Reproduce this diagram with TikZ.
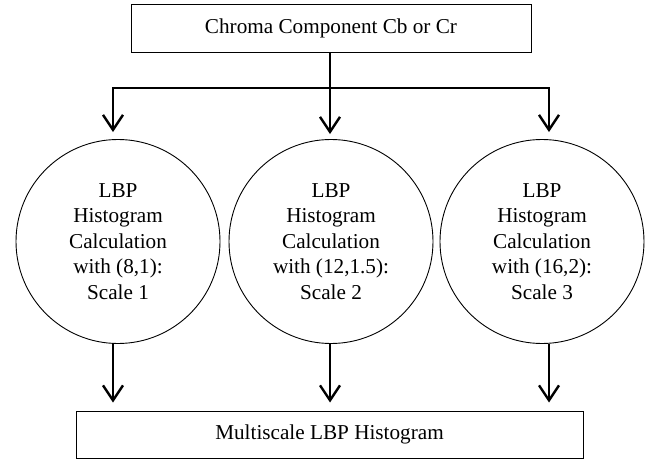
\documentclass[tikz,border=0pt]{standalone}
\usepackage{fontspec}
\setmainfont{Liberation Serif}
\usetikzlibrary{arrows.meta}

\begin{document}
\begin{tikzpicture}[
    x=1pt, y=-1pt,
    font=\fontsize{21.2}{25.5}\selectfont,
    >={Straight Barb[length=15pt, width=20pt, line width=2.4pt]},
    box/.style={rectangle, draw, line width=1pt, inner sep=0pt, align=center},
    scalecircle/.style={circle, draw, line width=0.9pt, minimum size=204pt, inner sep=0pt, align=center},
    arrow/.style={line width=2.6pt, ->}
]
\useasboundingbox (0,0) rectangle (662,463);

% Input
\node[box, minimum width=400pt, minimum height=48pt] (chroma) at (331,28) {Chroma Component Cb or Cr};

% LBP scales
\node[scalecircle] (scale1) at (118,241.5) {LBP\\Histogram\\Calculation\\with (8,1):\\Scale 1};
\node[scalecircle] (scale2) at (331,241.5) {LBP\\Histogram\\Calculation\\with (12,1.5):\\Scale 2};
\node[scalecircle] (scale3) at (542,241.5) {LBP\\Histogram\\Calculation\\with (16,2):\\Scale 3};

% Output
\node[box, minimum width=507pt, minimum height=47pt] (multi) at (329.5,434.5) {Multiscale LBP Histogram};

% Branch points
\coordinate (left) at (113,88);
\coordinate (right) at (549,88);
\coordinate (mid) at (330,88);

% Connections
\draw[arrow, shorten >=5pt] (chroma.south -| mid) -- (mid |- scale2.north);
\draw[arrow, <->, shorten <=7pt, shorten >=7pt]
    (left |- scale1.north) -- (left) -- (right) -- (right |- scale3.north);

\draw[arrow, shorten >=8pt] (left |- scale1.south) -- (left |- multi.north);
\draw[arrow, shorten >=8pt] (mid |- scale2.south) -- (mid |- multi.north);
\draw[arrow, shorten >=8pt] (right |- scale3.south) -- (right |- multi.north);

\end{tikzpicture}
\end{document}
